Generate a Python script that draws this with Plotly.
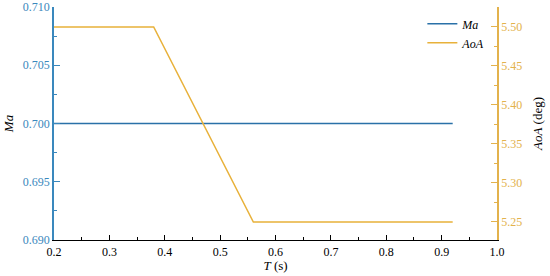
import plotly.graph_objects as go

t_ma = [0.2, 0.92]
ma = [0.700, 0.700]
t_aoa = [0.2, 0.38, 0.56, 0.92]
aoa = [5.50, 5.50, 5.25, 5.25]

blue = "#2a71a8"
gold = "#e8b13a"
blue_txt = "#3a88bd"
gold_txt = "#e3b24c"
font = "Liberation Serif, Times New Roman, serif"

fig = go.Figure()
fig.add_trace(go.Scatter(x=t_ma, y=ma, mode="lines", name="<i>Ma</i>",
                         line=dict(color=blue, width=1.5), yaxis="y"))
fig.add_trace(go.Scatter(x=t_aoa, y=aoa, mode="lines", name="<i>AoA</i>",
                         line=dict(color=gold, width=1.5), yaxis="y2"))

fig.update_layout(
    template="none",
    width=550, height=276,
    margin=dict(l=54, r=53, t=7, b=36, autoexpand=False),
    paper_bgcolor="white", plot_bgcolor="white",
    font=dict(family=font, size=12, color="black"),
    showlegend=True,
    legend=dict(x=0.985, y=0.99, xanchor="right", yanchor="top",
                bgcolor="rgba(0,0,0,0)", font=dict(size=12),
                tracegroupgap=0, itemwidth=30),
    xaxis=dict(range=[0.2, 1.0], dtick=0.1, tickformat=".1f", automargin=False,
               showgrid=False, zeroline=False, showline=True,
               linecolor="black", linewidth=1.2,
               ticks="inside", ticklen=5, tickcolor="black",
               minor=dict(dtick=0.05, ticks="inside", ticklen=3, tickcolor="black", showgrid=False),
               title=dict(text="<i>T</i> (s)", standoff=0, font=dict(size=13)),
               tickfont=dict(size=12)),
    yaxis=dict(range=[0.690, 0.710], dtick=0.005, tickformat=".3f", automargin=False,
               showgrid=False, zeroline=False, showline=True,
               linecolor=blue_txt, linewidth=1.5,
               ticks="inside", ticklen=6, tickcolor=blue_txt,
               minor=dict(dtick=0.0025, ticks="inside", ticklen=3, tickcolor=blue_txt, showgrid=False),
               tickfont=dict(color=blue_txt, size=12),
               title=dict(text="<i>Ma</i>", standoff=6, font=dict(size=13, color="black"))),
    yaxis2=dict(range=[5.2269, 5.5256], dtick=0.05, tickformat=".2f", automargin=False,
                overlaying="y", side="right", anchor="x",
                showgrid=False, zeroline=False, showline=True,
                linecolor=gold_txt, linewidth=1.5,
                ticks="inside", ticklen=6, tickcolor=gold_txt,
                minor=dict(dtick=0.025, ticks="inside", ticklen=3, tickcolor=gold_txt, showgrid=False),
                tickfont=dict(color=gold_txt, size=12),
                title=dict(text="<i>AoA</i> (deg)", standoff=12, font=dict(size=13, color="black"))),
)

fig.write_html("out.html", config={"displayModeBar": False},
               post_script="document.body.style.margin='0';document.body.style.padding='0';")
